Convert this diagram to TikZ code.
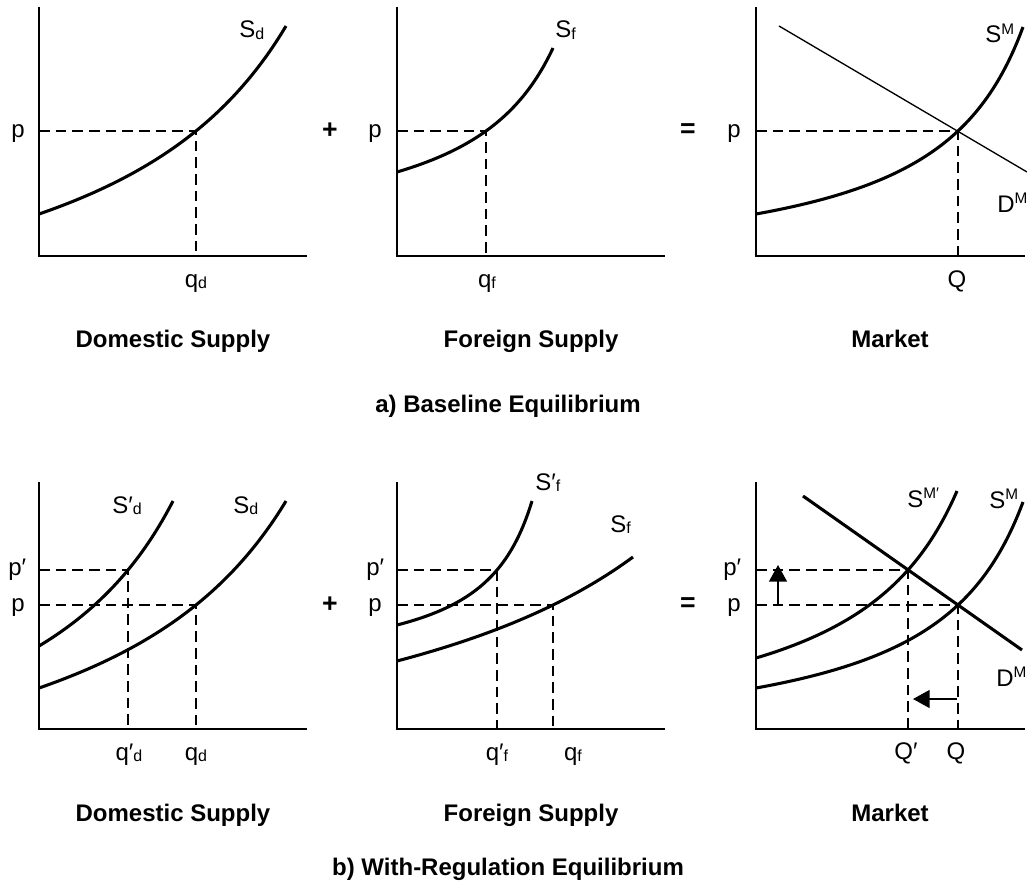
\documentclass[tikz,border=0pt]{standalone}
\usepackage{fontspec}
\setmainfont{Liberation Sans}
\usetikzlibrary{arrows.meta}
% #1 origin x, #2 axis y, #3 x1, #4 x2, #5 h0, #6 h1, #7 h2 (heights above axis)
\newcommand\supplycurve[7]{%
  \pgfmathsetmacro\cvr{(#7-#6)/(#6-#5)}%
  \pgfmathsetmacro\cvC{\cvr*#3/(\cvr*#3/#4-1+#3/#4)}%
  \pgfmathsetmacro\cvD{(#6-#5)/#3*(\cvC-#3)}%
  \pgfmathsetmacro\cvA{#5-\cvD}%
  \draw[curve] plot[domain=0:#4,samples=90,variable=\u] ({#1+\u},{#2-(\cvA+\cvD/(1-\u/\cvC))});%
}
\newcommand\mysub[1]{{\fontsize{12}{13}\selectfont\raisebox{-0.8pt}{#1}}}
\newcommand\mysup[1]{{\fontsize{11.5}{12}\selectfont\raisebox{6.5pt}{#1}}}
\begin{document}
\begin{tikzpicture}[x=0.75pt,y=-0.75pt,
  axis/.style={line width=1.5pt},
  curve/.style={line width=2.3pt},
  thinline/.style={line width=1pt},
  guide/.style={line width=1pt,dash pattern=on 8pt off 4.5pt},
  shift arrow/.style={line width=1.1pt,-{Triangle[length=12.5pt,width=13.5pt]}},
  lab/.style={font=\fontsize{18}{20}\selectfont,inner sep=0pt},
  opr/.style={font=\bfseries\fontsize{20}{22}\selectfont,inner sep=0pt},
  ttl/.style={font=\bfseries\fontsize{18}{20}\selectfont,inner sep=0pt}]
\useasboundingbox[fill=white] (0,0) rectangle (1027,892);

% ================= TOP ROW =================
% Panel 1: domestic supply
\draw[axis] (39,7) -- (39,256) -- (307,256);
\supplycurve{39}{256}{157}{247}{42}{125}{230}
\coordinate (ad) at (196,131);
\draw[guide] (39,131) -- (ad) -- (196,256);
\node[lab,anchor=base west] (tSd) at (239,38) {S\mysub{d}};
\node[lab,anchor=base west] (tp1) at (11,137) {p};
\node[lab,anchor=base] (tqd) at (196,287) {q\mysub{d}};
\node[opr] (tplus) at (330,131) {+};

% Panel 2: foreign supply
\draw[axis] (397,7) -- (397,256) -- (665,256);
\supplycurve{397}{256}{89}{156}{84}{125}{208}
\coordinate (af) at (486,131);
\draw[guide] (397,131) -- (af) -- (486,256);
\node[lab,anchor=base west] (tSf) at (555,38) {S\mysub{f}};
\node[lab,anchor=base west] (tp2) at (368,137) {p};
\node[lab,anchor=base] (tqf) at (487,287) {q\mysub{f}};
\node[opr] (teq) at (688,131) {=};

% Panel 3: market
\draw[axis] (756,7) -- (756,256) -- (1025,256);
\supplycurve{756}{256}{202}{267}{42}{125}{229}
\coordinate (aM) at (958,131);
\coordinate (dA) at (779,26);
\coordinate (dB) at (1027,172);
\draw[thinline] (dA) -- (dB);
\draw[guide] (756,131) -- (aM) -- (958,256);
\node[lab,anchor=base west] (tSM) at (985,43) {S\mysup{M}};
\node[lab,anchor=base west] (tDM) at (997,212) {D\mysup{M}};
\node[lab,anchor=base west] (tp3) at (727,137) {p};
\node[lab,anchor=base] (tQ) at (957,287) {Q};

% titles top
\node[ttl,anchor=base] (t1) at (173,347) {Domestic Supply};
\node[ttl,anchor=base] (t2) at (531,347) {Foreign Supply};
\node[ttl,anchor=base] (t3) at (890,347) {Market};
\node[ttl,anchor=base] (ta) at (508,412) {a) Baseline Equilibrium};

% ================= BOTTOM ROW =================
% Panel 4: domestic supply
\draw[axis] (39,482) -- (39,729) -- (307,729);
\supplycurve{39}{729}{89}{134}{83}{159}{228}
\supplycurve{39}{729}{157}{247}{41}{124}{228}
\coordinate (bd1) at (128,570);
\coordinate (bd0) at (196,605);
\draw[guide] (39,570) -- (bd1) -- (128,729);
\draw[guide] (39,605) -- (bd0) -- (196,729);
\node[lab,anchor=base west] (bSd1) at (112,513) {S′\mysub{d}};
\node[lab,anchor=base west] (bSd) at (233,513) {S\mysub{d}};
\node[lab,anchor=base west] (bp1a) at (8,575) {p′};
\node[lab,anchor=base west] (bp1b) at (11,611) {p};
\node[lab,anchor=base] (bqd1) at (129,760) {q′\mysub{d}};
\node[lab,anchor=base] (bqd) at (196,760) {q\mysub{d}};
\node[opr] (bplus) at (330,605) {+};

% Panel 5: foreign supply
\draw[axis] (397,482) -- (397,729) -- (665,729);
\supplycurve{397}{729}{100}{135}{104}{159}{228}
\supplycurve{397}{729}{156}{236}{68}{124}{172}
\coordinate (bf1) at (497,570);
\coordinate (bf0) at (553,605);
\draw[guide] (397,570) -- (bf1) -- (497,729);
\draw[guide] (397,605) -- (bf0) -- (553,729);
\node[lab,anchor=base west] (bSf1) at (535,490) {S′\mysub{f}};
\node[lab,anchor=base west] (bSf) at (610,532) {S\mysub{f}};
\node[lab,anchor=base west] (bp2a) at (366,575) {p′};
\node[lab,anchor=base west] (bp2b) at (368,611) {p};
\node[lab,anchor=base] (bqf1) at (497,760) {q′\mysub{f}};
\node[lab,anchor=base] (bqf) at (573,760) {q\mysub{f}};
\node[opr] (beq) at (688,605) {=};

% Panel 6: market
\draw[axis] (756,482) -- (756,729) -- (1025,729);
\supplycurve{756}{729}{152}{201}{71}{159}{238}
\supplycurve{756}{729}{202}{267}{41}{124}{227}
\coordinate (bdA) at (803,496);
\coordinate (bdB) at (1022,650);
\draw[curve] (bdA) -- (bdB);
\coordinate (bM1) at (908,570);
\coordinate (bM0) at (958,605);
\draw[guide] (756,570) -- (bM1) -- (908,729);
\draw[guide] (756,605) -- (bM0) -- (958,729);
\coordinate (upS) at (778,605);
\coordinate (upE) at (778,565);
\draw[shift arrow] (upS) -- (upE);
\coordinate (lfS) at (957,699);
\coordinate (lfE) at (913,699);
\draw[shift arrow] (lfS) -- (lfE);
\node[lab,anchor=base west] (bSM1) at (907,507) {S\mysup{M′}};
\node[lab,anchor=base west] (bSM) at (989,508) {S\mysup{M}};
\node[lab,anchor=base west] (bDM) at (996,686) {D\mysup{M}};
\node[lab,anchor=base west] (bp3a) at (723,575) {p′};
\node[lab,anchor=base west] (bp3b) at (727,611) {p};
\node[lab,anchor=base] (bQ1) at (906,759) {Q′};
\node[lab,anchor=base] (bQ) at (956,759) {Q};

% titles bottom
\node[ttl,anchor=base] (b1) at (173,821) {Domestic Supply};
\node[ttl,anchor=base] (b2) at (531,821) {Foreign Supply};
\node[ttl,anchor=base] (b3) at (890,821) {Market};
\node[ttl,anchor=base] (tb) at (508,875) {b) With-Regulation Equilibrium};
\end{tikzpicture}
\end{document}
